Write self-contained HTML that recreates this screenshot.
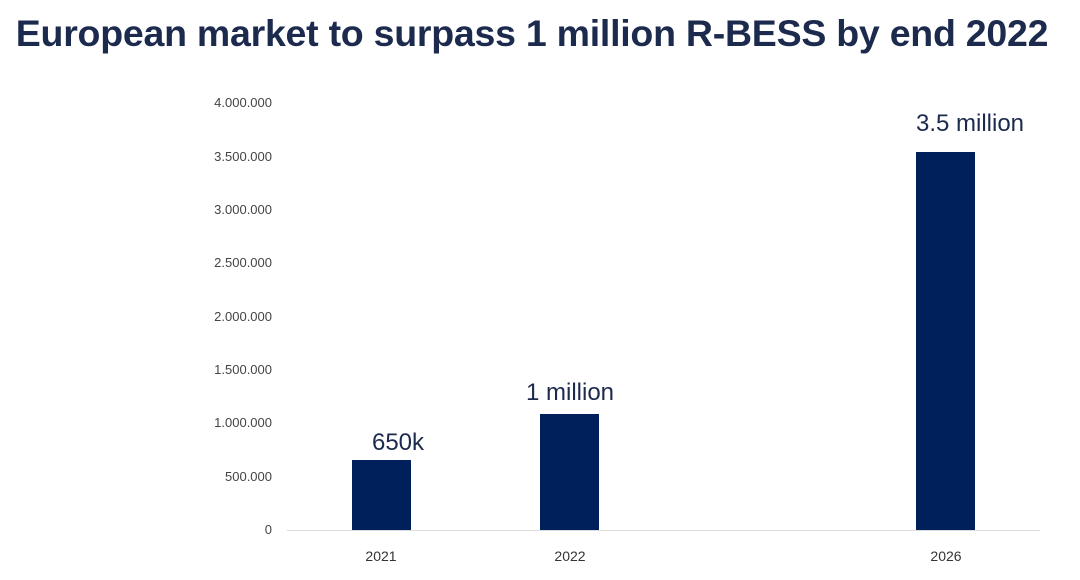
<!DOCTYPE html>
<html><head><meta charset="utf-8"><style>
body{margin:0;width:1080px;height:580px;background:#fff;position:relative;overflow:hidden;font-family:"Liberation Sans",sans-serif}
.t{position:absolute;left:0;top:12px;width:1064px;text-align:center;font-size:37.5px;font-weight:bold;color:#1c2a4d;letter-spacing:-0.25px;white-space:nowrap}
.y{position:absolute;right:808px;font-size:13px;color:#444;line-height:14px}
.b{position:absolute;background:#00205b;width:59px}
.v{position:absolute;font-size:24px;color:#1c2a4d;text-align:center;width:200px;line-height:26px}
.x{position:absolute;font-size:14px;color:#333;width:100px;text-align:center;top:548px}
</style></head><body>
<div class="t">European market to surpass 1 million R-BESS by end 2022</div>
<div class="y" style="top:96px">4.000.000</div>
<div class="y" style="top:150px">3.500.000</div>
<div class="y" style="top:203px">3.000.000</div>
<div class="y" style="top:256px">2.500.000</div>
<div class="y" style="top:310px">2.000.000</div>
<div class="y" style="top:363px">1.500.000</div>
<div class="y" style="top:416px">1.000.000</div>
<div class="y" style="top:470px">500.000</div>
<div class="y" style="top:523px">0</div>
<div style="position:absolute;left:287px;top:530px;width:753px;height:1px;background:#ddd"></div>
<div class="b" style="left:352px;top:460px;height:70px"></div>
<div class="b" style="left:540px;top:414px;height:116px"></div>
<div class="b" style="left:916px;top:152px;height:378px"></div>
<div class="v" style="left:298px;top:430px">650k</div>
<div class="v" style="left:470px;top:380px">1 million</div>
<div class="v" style="left:870px;top:111px">3.5 million</div>
<div class="x" style="left:331px">2021</div>
<div class="x" style="left:520px">2022</div>
<div class="x" style="left:896px">2026</div>
</body></html>
